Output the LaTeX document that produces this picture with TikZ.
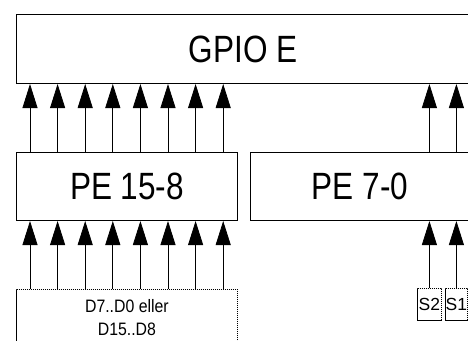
\documentclass[tikz,border=0pt]{standalone}
\usepackage{fontspec}
\setmainfont{Liberation Sans}
\newfontfamily\bigf[FakeStretch=0.83]{Liberation Sans}
\newfontfamily\smallf[FakeStretch=0.88]{Liberation Sans}
\usetikzlibrary{arrows.meta}
\begin{document}
\begin{tikzpicture}[x=1pt,y=-1pt,
  box/.style={draw, line width=1pt, inner sep=0pt, anchor=north west, font=\bigf\fontsize{38}{40}\selectfont},
  dbox/.style={draw, line width=0.8pt, dash pattern=on 1.2pt off 0.8pt, inner sep=0pt, anchor=north west, font=\smallf\fontsize{18}{23}\selectfont, align=center},
  sbox/.style={draw, line width=0.8pt, dash pattern=on 1.2pt off 0.8pt, inner sep=0pt, anchor=north west, minimum height=32pt, font=\fontsize{17.5}{20}\selectfont},
  sig/.style={line width=0.8pt, -{Triangle[length=24pt,width=15pt]}}]
\useasboundingbox (0,0) rectangle (468,340);
\clip (0,0) rectangle (468,340);
\node[box, minimum width=453pt, minimum height=69pt] (gpio) at (16,14) {GPIO E};
\node[box, minimum width=221pt, minimum height=68pt] (pehi) at (16,152) {PE 15-8};
\node[box, minimum width=219pt, minimum height=68pt] (pelo) at (250,152) {PE 7-0};
\node[dbox, minimum width=221pt, minimum height=56pt] (data) at (16,289) {D7..D0 eller\\D15..D8};
\node[sbox, minimum width=24pt] (s2) at (417,288) {S2};
\node[sbox, minimum width=22pt] (s1) at (445,288) {S1};
\foreach \i in {0,...,7}{
  \pgfmathsetmacro{\dx}{14+27.6*\i}
  \draw[sig] ([xshift=\dx pt]pehi.north west) -- ([xshift=\dx pt]gpio.south west);
  \draw[sig] ([xshift=\dx pt]data.north west) -- ([xshift=\dx pt]pehi.south west);
}
\draw[sig] (s2.north) -- (s2.north |- pelo.south);
\draw[sig] (s1.north) -- (s1.north |- pelo.south);
\draw[sig] (s2.north |- pelo.north) -- (s2.north |- gpio.south);
\draw[sig] (s1.north |- pelo.north) -- (s1.north |- gpio.south);
\end{tikzpicture}
\end{document}
